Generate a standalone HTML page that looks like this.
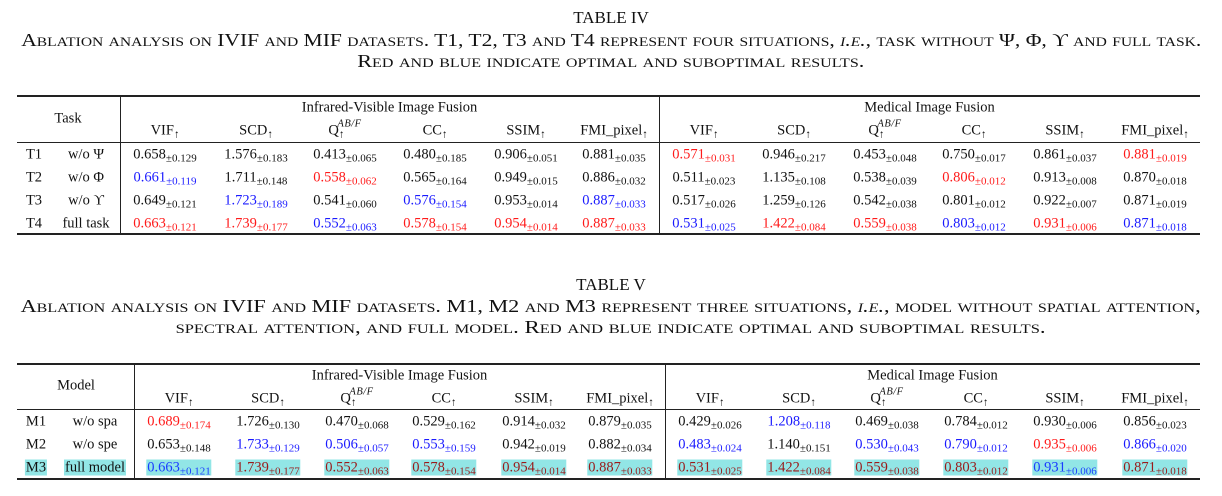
<!DOCTYPE html>
<html><head><meta charset="utf-8"><style>
body{margin:0;width:1222px;height:496px;background:#fff;position:relative;overflow:hidden;font-family:"Liberation Serif",serif;color:#111}
.a{position:absolute;white-space:nowrap;transform:translate(-50%,-50%);font-size:14.5px;line-height:15px}
.t{position:absolute;left:0;width:1222px;text-align:center;white-space:nowrap;font-size:18px;line-height:20px;font-variant:small-caps}
.t span{display:inline-block;transform-origin:center}
.r{position:absolute;background:#222}
sub{font-size:11px;vertical-align:-3px;line-height:0}
sup{font-size:10.5px;font-style:italic;vertical-align:8px;line-height:0;letter-spacing:.5px}
.red{color:#ff1a1a}.blue{color:#1a1aff}
.hl{background:#92e6e6;padding:0 1px}
.hl.red{color:#9a1a1a}.hl.blue{color:#1a3cff}
</style></head><body>
<div class="t" style="top:8px;font-variant:normal;font-size:17px">TABLE IV</div>
<div class="t" style="top:30px"><span data-w="1180">Ablation analysis on IVIF and MIF datasets. T1, T2, T3 and T4 represent four situations, <i>i.e.</i>, task without Ψ, Φ, ϒ and full task.</span></div>
<div class="t" style="top:51px"><span data-w="507">Red and blue indicate optimal and suboptimal results.</span></div>
<div class="t" style="top:275px;font-variant:normal;font-size:17px">TABLE V</div>
<div class="t" style="top:296px"><span data-w="1180">Ablation analysis on IVIF and MIF datasets. M1, M2 and M3 represent three situations, <i>i.e.</i>, model without spatial attention,</span></div>
<div class="t" style="top:317px"><span data-w="870">spectral attention, and full model. Red and blue indicate optimal and suboptimal results.</span></div>
<div id="root"></div>
<script>
document.querySelectorAll('.t span[data-w]').forEach(s=>{const w=s.getBoundingClientRect().width;s.style.transform='scaleX('+(+s.dataset.w/w)+')';});
const metrics=["VIF","SCD","Q","CC","SSIM","FMI_pixel"];
const t4Labels=[["T1","w/o Ψ"],["T2","w/o Φ"],["T3","w/o ϒ"],["T4","full task"]];
const t4Vals=[
["0.658","0.129","","1.576","0.183","","0.413","0.065","","0.480","0.185","","0.906","0.051","","0.881","0.035","","0.571","0.031","red","0.946","0.217","","0.453","0.048","","0.750","0.017","","0.861","0.037","","0.881","0.019","red"],
["0.661","0.119","blue","1.711","0.148","","0.558","0.062","red","0.565","0.164","","0.949","0.015","","0.886","0.032","","0.511","0.023","","1.135","0.108","","0.538","0.039","","0.806","0.012","red","0.913","0.008","","0.870","0.018",""],
["0.649","0.121","","1.723","0.189","blue","0.541","0.060","","0.576","0.154","blue","0.953","0.014","","0.887","0.033","blue","0.517","0.026","","1.259","0.126","","0.542","0.038","","0.801","0.012","","0.922","0.007","","0.871","0.019",""],
["0.663","0.121","red","1.739","0.177","red","0.552","0.063","blue","0.578","0.154","red","0.954","0.014","red","0.887","0.033","red","0.531","0.025","blue","1.422","0.084","red","0.559","0.038","red","0.803","0.012","blue","0.931","0.006","red","0.871","0.018","blue"]];
const t5Labels=[["M1","w/o spa"],["M2","w/o spe"],["M3","full model"]];
const t5Vals=[
["0.689","0.174","red","1.726","0.130","","0.470","0.068","","0.529","0.162","","0.914","0.032","","0.879","0.035","","0.429","0.026","","1.208","0.118","blue","0.469","0.038","","0.784","0.012","","0.930","0.006","","0.856","0.023",""],
["0.653","0.148","","1.733","0.129","blue","0.506","0.057","blue","0.553","0.159","blue","0.942","0.019","","0.882","0.034","","0.483","0.024","blue","1.140","0.151","","0.530","0.043","blue","0.790","0.012","blue","0.935","0.006","red","0.866","0.020","blue"],
["0.663","0.121","blue","1.739","0.177","red","0.552","0.063","red","0.578","0.154","red","0.954","0.014","red","0.887","0.033","red","0.531","0.025","red","1.422","0.084","red","0.559","0.038","red","0.803","0.012","red","0.931","0.006","blue","0.871","0.018","red"]];
const root=document.getElementById('root');
function rule(x,y,w,h,name){const d=document.createElement('div');d.className='r';


d.style.cssText=`left:${x}px;top:${y}px;width:${w}px;height:${h}px`;root.appendChild(d);}
function cell(x,y,html,cls,name){const d=document.createElement('div');d.className='a';


d.style.left=x+'px';d.style.top=y+'px';d.innerHTML=cls&&cls.includes('hl')?`<span class="${cls}">${html}</span>`:html;if(cls&&!cls.includes('hl'))d.className+=' '+cls;root.appendChild(d);}
function metricHtml(m){return m==="Q"?'Q<sub>↑</sub><sup style="margin-left:-7px">AB/F</sup>':m+'<sub>↑</sub>';}
function table(pfx,cfg,labels,vals,lab,hlRow){
rule(17,cfg.top,1183,2,pfx+'-top-rule');rule(17,cfg.mid,1183,1,pfx+'-mid-rule');rule(17,cfg.bot,1183,2,pfx+'-bottom-rule');
rule(cfg.v1,cfg.top,1,cfg.bot-cfg.top,pfx+'-divider-1');rule(cfg.v2,cfg.top,1,cfg.bot-cfg.top,pfx+'-divider-2');
cell(cfg.labX,(cfg.top+cfg.mid)/2,lab,'',pfx+'-row-header');
cell((cfg.v1+cfg.v2)/2,cfg.h1,'Infrared-Visible Image Fusion','',pfx+'-ivif-group-header');
cell((cfg.v2+1200)/2,cfg.h1,'Medical Image Fusion','',pfx+'-mif-group-header');
cfg.cols.forEach((x,i)=>cell(x,cfg.h2,metricHtml(metrics[i%6]),'',pfx+'-header-'+(i<6?'ivif-':'mif-')+metrics[i%6].toLowerCase()));
labels.forEach((l,r)=>{const y=cfg.rows[r];const h=r===hlRow;
cell(cfg.idX,y,l[0],h?'hl':'',pfx+'-row-id-'+l[0].toLowerCase());
cell(cfg.nameX,y,l[1],h?'hl':'',pfx+'-row-name-'+l[0].toLowerCase());
for(let c=0;c<12;c++){const v=vals[r][c*3],s=vals[r][c*3+1],col=vals[r][c*3+2];
let cls=(col||'')+(h?' hl':'');cell(cfg.cols[c],y,v+'<sub>±'+s+'</sub>',cls.trim(),pfx+'-cell-'+l[0].toLowerCase()+'-'+(c<6?'ivif-':'mif-')+metrics[c%6].toLowerCase());}
});}
table('table4',{top:95,mid:142,bot:233,h1:108,h2:131,v1:120,v2:659,labX:68,idX:34,nameX:86,rows:[155,178,201,224],
cols:[165,256,345,435,526,614,704,794,885,974,1065,1155]},t4Labels,t4Vals,'Task',-1);
table('table5',{top:363,mid:409,bot:478,h1:376,h2:399,v1:134,v2:665,labX:76,idX:36,nameX:95,rows:[422,445,468],
cols:[179,268,357,444,534,620,710,799,887,976,1065,1155]},t5Labels,t5Vals,'Model',2);
</script>
</body></html>
